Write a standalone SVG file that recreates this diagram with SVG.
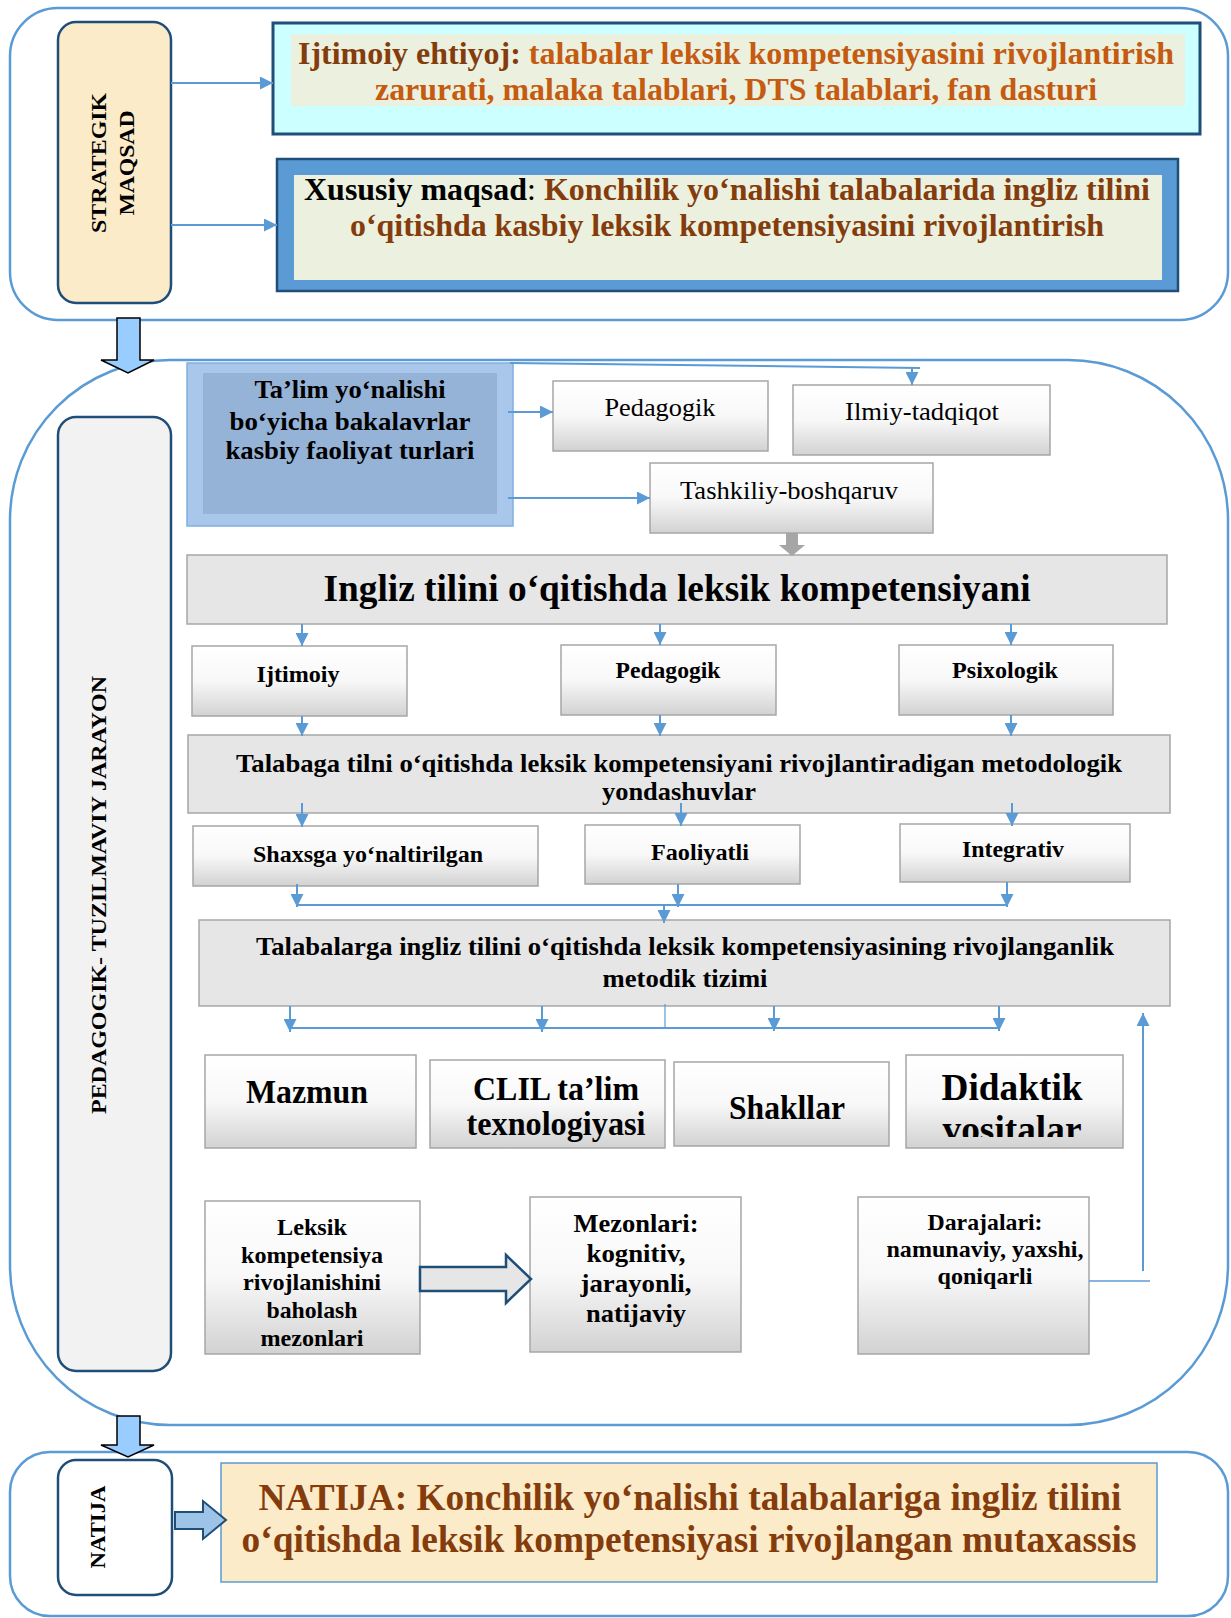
<svg xmlns="http://www.w3.org/2000/svg" width="1231" height="1618" viewBox="0 0 1231 1618">
<style>
text{font-family:"Liberation Serif","Times New Roman",serif;font-weight:bold;fill:#000;}
.reg{font-weight:normal;}
.c{text-anchor:middle;}
.cont{fill:none;stroke:#5b9bd5;stroke-width:2.5;}
.side{stroke:#1f4e79;stroke-width:2.5;}
.gb{fill:url(#grad);stroke:#a6a6a6;stroke-width:1.5;}
.gray{fill:#e6e6e6;stroke:#a6a6a6;stroke-width:1.5;}
.ln{fill:none;stroke:#5b9bd5;stroke-width:2;}
.ar{marker-end:url(#ah);}
.br{fill:#843c0c;}
.or{fill:#c55a11;}
</style>
<defs>
<linearGradient id="grad" x1="0" y1="0" x2="0" y2="1">
<stop offset="0" stop-color="#ffffff"/>
<stop offset="0.5" stop-color="#f8f8f8"/>
<stop offset="1" stop-color="#d2d2d2"/>
</linearGradient>
<marker id="ah" viewBox="0 0 10 10" refX="10" refY="5" markerWidth="13" markerHeight="13" markerUnits="userSpaceOnUse" orient="auto">
<path d="M0,0 L10,5 L0,10 z" fill="#5b9bd5"/>
</marker>
<clipPath id="didclip"><rect x="906" y="1055" width="217" height="82"/></clipPath>
</defs>
<rect x="0" y="0" width="1231" height="1618" fill="#ffffff"/>

<!-- containers -->
<g id="container-top"><rect class="cont" x="10" y="8" width="1218" height="312" rx="48" ry="48"/></g>
<g id="container-mid"><rect class="cont" x="10" y="360" width="1218" height="1065" rx="160" ry="160"/></g>
<g id="container-bottom"><rect class="cont" x="10" y="1452" width="1218" height="164" rx="40" ry="40"/></g>

<!-- side labels -->
<g id="strategik">
<rect class="side" x="58" y="22" width="113" height="281" rx="18" fill="#fbebc8"/>
<text transform="translate(106,163) rotate(-90)" class="c" font-size="22" textLength="140" lengthAdjust="spacingAndGlyphs">STRATEGIK</text>
<text transform="translate(134,163) rotate(-90)" class="c" font-size="22" textLength="105" lengthAdjust="spacingAndGlyphs">MAQSAD</text>
</g>
<g id="pedagogik-jarayon">
<rect class="side" x="58" y="417" width="113" height="954" rx="18" fill="#f2f2f2"/>
<text transform="translate(106,895) rotate(-90)" class="c" font-size="22" textLength="438" lengthAdjust="spacingAndGlyphs">PEDAGOGIK- TUZILMAVIY JARAYON</text>
</g>
<g id="natija-label">
<rect class="side" x="58" y="1460" width="114" height="135" rx="18" fill="#ffffff"/>
<text transform="translate(105,1527) rotate(-90)" class="c" font-size="21" textLength="83" lengthAdjust="spacingAndGlyphs">NATIJA</text>
</g>

<!-- top boxes -->
<g id="ijtimoiy-ehtiyoj">
<rect x="273" y="23" width="927" height="111" fill="#ccffff" stroke="#1f4e79" stroke-width="3"/>
<rect x="291" y="34" width="894" height="72" fill="#ebf1de"/>
<text x="736" y="64" class="c" font-size="31" textLength="876" lengthAdjust="spacingAndGlyphs"><tspan class="br">Ijtimoiy ehtiyoj:</tspan><tspan class="or"> talabalar leksik kompetensiyasini rivojlantirish</tspan></text>
<text x="736" y="100" class="c or" font-size="31" textLength="722" lengthAdjust="spacingAndGlyphs">zarurati, malaka talablari, DTS talablari, fan dasturi</text>
</g>
<g id="xususiy-maqsad">
<rect x="277" y="159" width="901" height="132" fill="#5b9bd5" stroke="#1f4e79" stroke-width="2.5"/>
<rect x="294" y="175" width="868" height="105" fill="#ebf1de"/>
<text x="727" y="200" class="c" font-size="31" textLength="846" lengthAdjust="spacingAndGlyphs">Xususiy maqsad<tspan font-weight="normal">:</tspan><tspan class="br"> Konchilik yo‘nalishi talabalarida ingliz tilini</tspan></text>
<text x="727" y="236" class="c br" font-size="31" textLength="754" lengthAdjust="spacingAndGlyphs">o‘qitishda kasbiy leksik kompetensiyasini rivojlantirish</text>
</g>

<!-- middle nodes -->
<g id="talim">
<rect x="187" y="363" width="326" height="163" fill="#a9c7ea" stroke="#7fb0e0" stroke-width="1.5"/>
<rect x="203" y="373" width="294" height="141" fill="#95b3d7"/>
<text x="350" y="398" class="c" font-size="26" textLength="191" lengthAdjust="spacingAndGlyphs">Ta’lim yo‘nalishi</text>
<text x="350" y="430" class="c" font-size="26" textLength="241" lengthAdjust="spacingAndGlyphs">bo‘yicha bakalavrlar</text>
<text x="350" y="459" class="c" font-size="26" textLength="249" lengthAdjust="spacingAndGlyphs">kasbiy faoliyat turlari</text>
</g>
<g id="pedagogik-top">
<rect class="gb" x="553" y="381" width="215" height="70"/>
<text x="660" y="416" class="c reg" font-size="26" textLength="111" lengthAdjust="spacingAndGlyphs">Pedagogik</text>
</g>
<g id="ilmiy">
<rect class="gb" x="793" y="385" width="257" height="70"/>
<text x="922" y="420" class="c reg" font-size="26" textLength="154" lengthAdjust="spacingAndGlyphs">Ilmiy-tadqiqot</text>
</g>
<g id="tashkiliy">
<rect class="gb" x="650" y="463" width="283" height="70"/>
<text x="789" y="499" class="c reg" font-size="26" textLength="218" lengthAdjust="spacingAndGlyphs">Tashkiliy-boshqaruv</text>
</g>
<g id="ingliz">
<rect class="gray" x="187" y="555" width="980" height="69"/>
<text x="677" y="601" class="c" font-size="37" textLength="707" lengthAdjust="spacingAndGlyphs">Ingliz tilini o‘qitishda leksik kompetensiyani</text>
</g>
<g id="ijtimoiy">
<rect class="gb" x="192" y="646" width="215" height="70"/>
<text x="298" y="682" class="c" font-size="24" textLength="83" lengthAdjust="spacingAndGlyphs">Ijtimoiy</text>
</g>
<g id="pedagogik-b">
<rect class="gb" x="561" y="645" width="215" height="70"/>
<text x="668" y="678" class="c" font-size="24" textLength="105" lengthAdjust="spacingAndGlyphs">Pedagogik</text>
</g>
<g id="psixologik">
<rect class="gb" x="899" y="645" width="214" height="70"/>
<text x="1005" y="678" class="c" font-size="24" textLength="106" lengthAdjust="spacingAndGlyphs">Psixologik</text>
</g>
<g id="talabaga">
<rect class="gray" x="188" y="735" width="982" height="78"/>
<text x="679" y="772" class="c" font-size="26" textLength="886" lengthAdjust="spacingAndGlyphs">Talabaga tilni o‘qitishda leksik kompetensiyani rivojlantiradigan metodologik</text>
<text x="679" y="800" class="c" font-size="26" textLength="154" lengthAdjust="spacingAndGlyphs">yondashuvlar</text>
</g>
<g id="shaxsga">
<rect class="gb" x="193" y="826" width="345" height="60"/>
<text x="368" y="862" class="c" font-size="24" textLength="230" lengthAdjust="spacingAndGlyphs">Shaxsga yo‘naltirilgan</text>
</g>
<g id="faoliyatli">
<rect class="gb" x="585" y="825" width="215" height="59"/>
<text x="700" y="860" class="c" font-size="24" textLength="98" lengthAdjust="spacingAndGlyphs">Faoliyatli</text>
</g>
<g id="integrativ">
<rect class="gb" x="900" y="824" width="230" height="58"/>
<text x="1013" y="857" class="c" font-size="24" textLength="102" lengthAdjust="spacingAndGlyphs">Integrativ</text>
</g>
<g id="talabalarga">
<rect class="gray" x="199" y="920" width="971" height="86"/>
<text x="685" y="955" class="c" font-size="26" textLength="858" lengthAdjust="spacingAndGlyphs">Talabalarga ingliz tilini o‘qitishda leksik kompetensiyasining rivojlanganlik</text>
<text x="685" y="987" class="c" font-size="26" textLength="165" lengthAdjust="spacingAndGlyphs">metodik tizimi</text>
</g>
<g id="mazmun">
<rect class="gb" x="205" y="1055" width="211" height="93"/>
<text x="307" y="1103" class="c" font-size="33" textLength="122" lengthAdjust="spacingAndGlyphs">Mazmun</text>
</g>
<g id="clil">
<rect class="gb" x="430" y="1060" width="235" height="88"/>
<text x="556" y="1100" class="c" font-size="34" textLength="166" lengthAdjust="spacingAndGlyphs">CLIL ta’lim</text>
<text x="556" y="1135" class="c" font-size="34" textLength="179" lengthAdjust="spacingAndGlyphs">texnologiyasi</text>
</g>
<g id="shakllar">
<rect class="gb" x="674" y="1062" width="215" height="84"/>
<text x="787" y="1119" class="c" font-size="34" textLength="116" lengthAdjust="spacingAndGlyphs">Shakllar</text>
</g>
<g id="didaktik">
<rect class="gb" x="906" y="1055" width="217" height="93"/>
<text x="1012" y="1100" class="c" font-size="38" textLength="141" lengthAdjust="spacingAndGlyphs">Didaktik</text>
<text x="1012" y="1142" class="c" font-size="38" textLength="139" lengthAdjust="spacingAndGlyphs" clip-path="url(#didclip)">vositalar</text>
</g>
<g id="leksik">
<rect class="gb" x="205" y="1201" width="215" height="153"/>
<text x="312" y="1235" class="c" font-size="24" textLength="70" lengthAdjust="spacingAndGlyphs">Leksik</text>
<text x="312" y="1263" class="c" font-size="24" textLength="142" lengthAdjust="spacingAndGlyphs">kompetensiya</text>
<text x="312" y="1290" class="c" font-size="24" textLength="138" lengthAdjust="spacingAndGlyphs">rivojlanishini</text>
<text x="312" y="1318" class="c" font-size="24" textLength="91" lengthAdjust="spacingAndGlyphs">baholash</text>
<text x="312" y="1346" class="c" font-size="24" textLength="103" lengthAdjust="spacingAndGlyphs">mezonlari</text>
</g>
<g id="mezonlari">
<rect class="gb" x="530" y="1197" width="211" height="155"/>
<text x="636" y="1232" class="c" font-size="26" textLength="125" lengthAdjust="spacingAndGlyphs">Mezonlari:</text>
<text x="636" y="1262" class="c" font-size="26" textLength="99" lengthAdjust="spacingAndGlyphs">kognitiv,</text>
<text x="636" y="1292" class="c" font-size="26" textLength="111" lengthAdjust="spacingAndGlyphs">jarayonli,</text>
<text x="636" y="1322" class="c" font-size="26" textLength="100" lengthAdjust="spacingAndGlyphs">natijaviy</text>
</g>
<g id="darajalari">
<rect class="gb" x="858" y="1197" width="231" height="157"/>
<text x="985" y="1230" class="c" font-size="24" textLength="115" lengthAdjust="spacingAndGlyphs">Darajalari:</text>
<text x="985" y="1257" class="c" font-size="24" textLength="197" lengthAdjust="spacingAndGlyphs">namunaviy, yaxshi,</text>
<text x="985" y="1284" class="c" font-size="24" textLength="95" lengthAdjust="spacingAndGlyphs">qoniqarli</text>
</g>

<!-- bottom result -->
<g id="natija">
<rect x="221" y="1463" width="936" height="119" fill="#fcebc8" stroke="#5b9bd5" stroke-width="1.5"/>
<text x="690" y="1510" class="c br" font-size="38" textLength="863" lengthAdjust="spacingAndGlyphs">NATIJA: Konchilik yo‘nalishi talabalariga ingliz tilini</text>
<text x="689" y="1552" class="c br" font-size="38" textLength="895" lengthAdjust="spacingAndGlyphs">o‘qitishda leksik kompetensiyasi rivojlangan mutaxassis</text>
</g>

<!-- connectors -->
<g id="connectors">
<path class="ln ar" d="M171,83 H273"/>
<path class="ln ar" d="M171,225 H277"/>
<path class="ln ar" d="M508,412 H553"/>
<path class="ln ar" d="M508,498 H650"/>
<path class="ln" d="M510,363 L920,368"/>
<path class="ln ar" d="M912,367 V385"/>
<polygon points="786,533 798,533 798,545 805,545 792,556 779,545 786,545" fill="#a6a6a6"/>
<path class="ln ar" d="M302,624 V646"/>
<path class="ln ar" d="M660,624 V645"/>
<path class="ln ar" d="M1011,624 V645"/>
<path class="ln ar" d="M302,716 V736"/>
<path class="ln ar" d="M660,715 V736"/>
<path class="ln ar" d="M1011,715 V736"/>
<path class="ln ar" d="M302,803 V827"/>
<path class="ln ar" d="M681,803 V826"/>
<path class="ln ar" d="M1012,803 V826"/>
<path class="ln ar" d="M297,884 V907"/>
<path class="ln ar" d="M678,884 V907"/>
<path class="ln ar" d="M1007,882 V907"/>
<path class="ln" d="M297,905 H1007"/>
<path class="ln ar" d="M664,904 V923"/>
<path class="ln ar" d="M290,1006 V1032"/>
<path class="ln ar" d="M542,1006 V1032"/>
<path class="ln ar" d="M774,1006 V1031"/>
<path class="ln ar" d="M999,1006 V1031"/>
<path class="ln" d="M290,1028 H999"/>
<path d="M665,1004 V1028" fill="none" stroke="#5b9bd5" stroke-width="1.2"/>
<path d="M1089,1281 H1150" fill="none" stroke="#5b9bd5" stroke-width="1.5"/>
<path class="ln ar" d="M1143,1271 V1013"/>
<polygon points="420,1267 506,1267 506,1255 531,1279 506,1303 506,1291 420,1291" fill="#e6e6e6" stroke="#1f4e79" stroke-width="2.5"/>
<polygon points="117,318 140,318 140,360 154,360 128,373 101,360 117,360" fill="#99ccff" stroke="#000" stroke-width="1.5"/>
<polygon points="117,1416 140,1416 140,1445 154,1445 128,1457 101,1445 117,1445" fill="#99ccff" stroke="#000" stroke-width="1.5"/>
<polygon points="175,1512 203,1512 203,1501 226,1520 203,1539 203,1529 175,1529" fill="#9dc3e6" stroke="#1f4e79" stroke-width="2"/>
</g>
</svg>
